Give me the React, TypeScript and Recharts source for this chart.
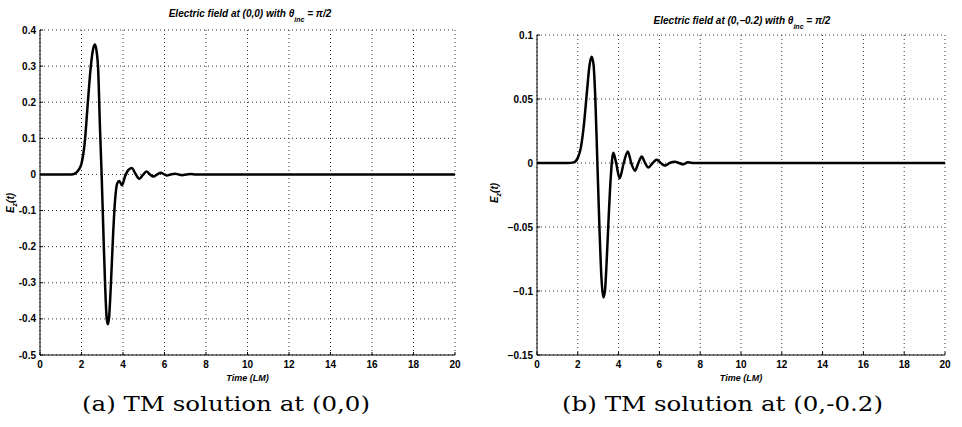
import { CartesianGrid, Line, LineChart, XAxis, YAxis } from "recharts";

// time axis (LM) shared by both panels
const timeTicks = [0, 2, 4, 6, 8, 10, 12, 14, 16, 18, 20];

// panel (a): field at (0,0)
const originTicks = [-0.5, -0.4, -0.3, -0.2, -0.1, 0, 0.1, 0.2, 0.3, 0.4];
const originTime = [
  0, 1, 1.5, 1.7, 1.85, 2.0, 2.15, 2.3, 2.45, 2.57, 2.65, 2.73, 2.8, 2.89, 2.97,
  3.05, 3.14, 3.21, 3.27, 3.33, 3.42, 3.52, 3.62, 3.72, 3.82, 3.95, 4.1, 4.25,
  4.42, 4.6, 4.78, 4.95, 5.13, 5.3, 5.47, 5.65, 5.82, 6.0, 6.12, 6.3, 6.5, 6.68,
  6.85, 7.05, 7.26, 7.5, 8, 20,
];
const originField = [
  0, 0, 0, 0.003, 0.012, 0.03, 0.085, 0.195, 0.3, 0.35, 0.36, 0.34, 0.295, 0.13,
  0.0, -0.15, -0.31, -0.395, -0.415, -0.395, -0.3, -0.17, -0.07, -0.025, -0.018,
  -0.03, -0.005, 0.012, 0.018, 0.002, -0.012, -0.002, 0.008, 0.0, -0.006, 0.0,
  0.005, 0.0, -0.003, 0.0, 0.002, 0, -0.002, 0, 0.001, 0, 0, 0,
];

// panel (b): field at (0,-0.2)
const offsetTicks = [-0.15, -0.1, -0.05, 0, 0.05, 0.1];
const offsetTime = [
  0, 1.5, 1.8, 2.0, 2.15, 2.3, 2.45, 2.58, 2.68, 2.77, 2.86, 2.96, 3.06, 3.16,
  3.25, 3.33, 3.42, 3.52, 3.62, 3.74, 3.88, 4.05, 4.25, 4.45, 4.62, 4.8, 4.97,
  5.13, 5.3, 5.46, 5.67, 5.87, 6.07, 6.27, 6.5, 6.76, 6.96, 7.16, 7.4, 7.7, 8, 20,
];
const offsetField = [
  0, 0, 0.0005, 0.004, 0.012, 0.03, 0.056, 0.077, 0.083, 0.077, 0.05, 0, -0.05,
  -0.09, -0.105, -0.1, -0.075, -0.04, -0.01, 0.008, 0.0, -0.012, 0.0, 0.009, 0.0,
  -0.006, 0, 0.005, 0, -0.0035, 0, 0.0025, 0, -0.002, 0, 0.001, 0, -0.001,
  0.0005, 0, 0, 0,
];

const sans = "'Liberation Sans', Arial, Helvetica, sans-serif";
const serif = "'DejaVu Serif', 'Liberation Serif', serif";
const tickFont = { fontSize: 10, fill: "#000", fontFamily: sans, fontWeight: 600 };

const toRows = (time: number[], field: number[]) =>
  time.map((t, i) => ({ time: t, ez: field[i] }));

type PlotProps = {
  rows: { time: number; ez: number }[];
  yTicks: number[];
  yFormat: (v: number) => string;
  left: number;
  width: number;
  axisWidth: number;
  top: number;
  right: number;
};

const FieldPlot = ({ rows, yTicks, yFormat, left, width, axisWidth, top, right }: PlotProps) => (
  <div style={{ position: "absolute", left, top: 0 }}>
    <LineChart
      width={width}
      height={427}
      data={rows}
      margin={{ top, right, bottom: 46, left: 0 }}
    >
      <CartesianGrid stroke="#333" strokeDasharray="1 3" />
      <XAxis
        dataKey="time"
        type="number"
        domain={[0, 20]}
        ticks={timeTicks}
        tickSize={-3}
        tickMargin={9}
        height={26}
        axisLine={{ stroke: "#000" }}
        tickLine={{ stroke: "#000" }}
        tick={tickFont}
        label={{
          value: "Time (LM)",
          position: "insideBottom",
          offset: 0,
          fontSize: 9,
          fontStyle: "italic",
          fontWeight: 600,
          fill: "#000",
          fontFamily: sans,
        }}
      />
      <YAxis
        type="number"
        domain={[yTicks[0], yTicks[yTicks.length - 1]]}
        ticks={yTicks}
        width={axisWidth}
        tickSize={-3}
        tickMargin={7}
        tickFormatter={yFormat}
        axisLine={{ stroke: "#000" }}
        tickLine={{ stroke: "#000" }}
        tick={tickFont}
      />
      <Line
        dataKey="ez"
        type="monotone"
        stroke="#000"
        strokeWidth={2.5}
        dot={false}
        isAnimationActive={false}
      />
    </LineChart>
  </div>
);

const App = () => {
  return (
    <div
      style={{
        position: "absolute",
        left: 0,
        top: 0,
        width: 962,
        height: 427,
        background: "#fff",
        overflow: "hidden",
      }}
    >
      <FieldPlot
        rows={toRows(originTime, originField)}
        yTicks={originTicks}
        yFormat={(v) => String(v)}
        left={0}
        width={480}
        axisWidth={40}
        top={30}
        right={25}
      />
      <FieldPlot
        rows={toRows(offsetTime, offsetField)}
        yTicks={offsetTicks}
        yFormat={(v) => String(v).replace("-", "\u2212")}
        left={480}
        width={482}
        axisWidth={57}
        top={35}
        right={17}
      />
      <svg
        width={962}
        height={427}
        style={{ position: "absolute", left: 0, top: 0, pointerEvents: "none" }}
      >
        <g fontFamily={sans} fontStyle="italic" fontWeight={600} fontSize={10} fill="#000">
          <text x={250} y={17} textAnchor="middle">
            Electric field at (0,0) with θ
            <tspan fontSize={7} dy={5}>inc</tspan>
            <tspan dy={-5}> = π/2</tspan>
          </text>
          <text x={742} y={24} textAnchor="middle">
            Electric field at (0,−0.2) with θ
            <tspan fontSize={7} dy={5}>inc</tspan>
            <tspan dy={-5}> = π/2</tspan>
          </text>
          <text transform="translate(14,203) rotate(-90)" textAnchor="middle">
            E<tspan fontSize={7} dy={3}>z</tspan>
            <tspan dy={-3}>(t)</tspan>
          </text>
          <text transform="translate(498,193) rotate(-90)" textAnchor="middle">
            E<tspan fontSize={7} dy={3}>z</tspan>
            <tspan dy={-3}>(t)</tspan>
          </text>
        </g>
        <g fontFamily={serif} fontSize={20} fill="#000">
          <text x={82} y={411} textLength={288} lengthAdjust="spacingAndGlyphs">
            (a) TM solution at (0,0)
          </text>
          <text x={562} y={411} textLength={321} lengthAdjust="spacingAndGlyphs">
            (b) TM solution at (0,-0.2)
          </text>
        </g>
      </svg>
    </div>
  );
};

export default App;
